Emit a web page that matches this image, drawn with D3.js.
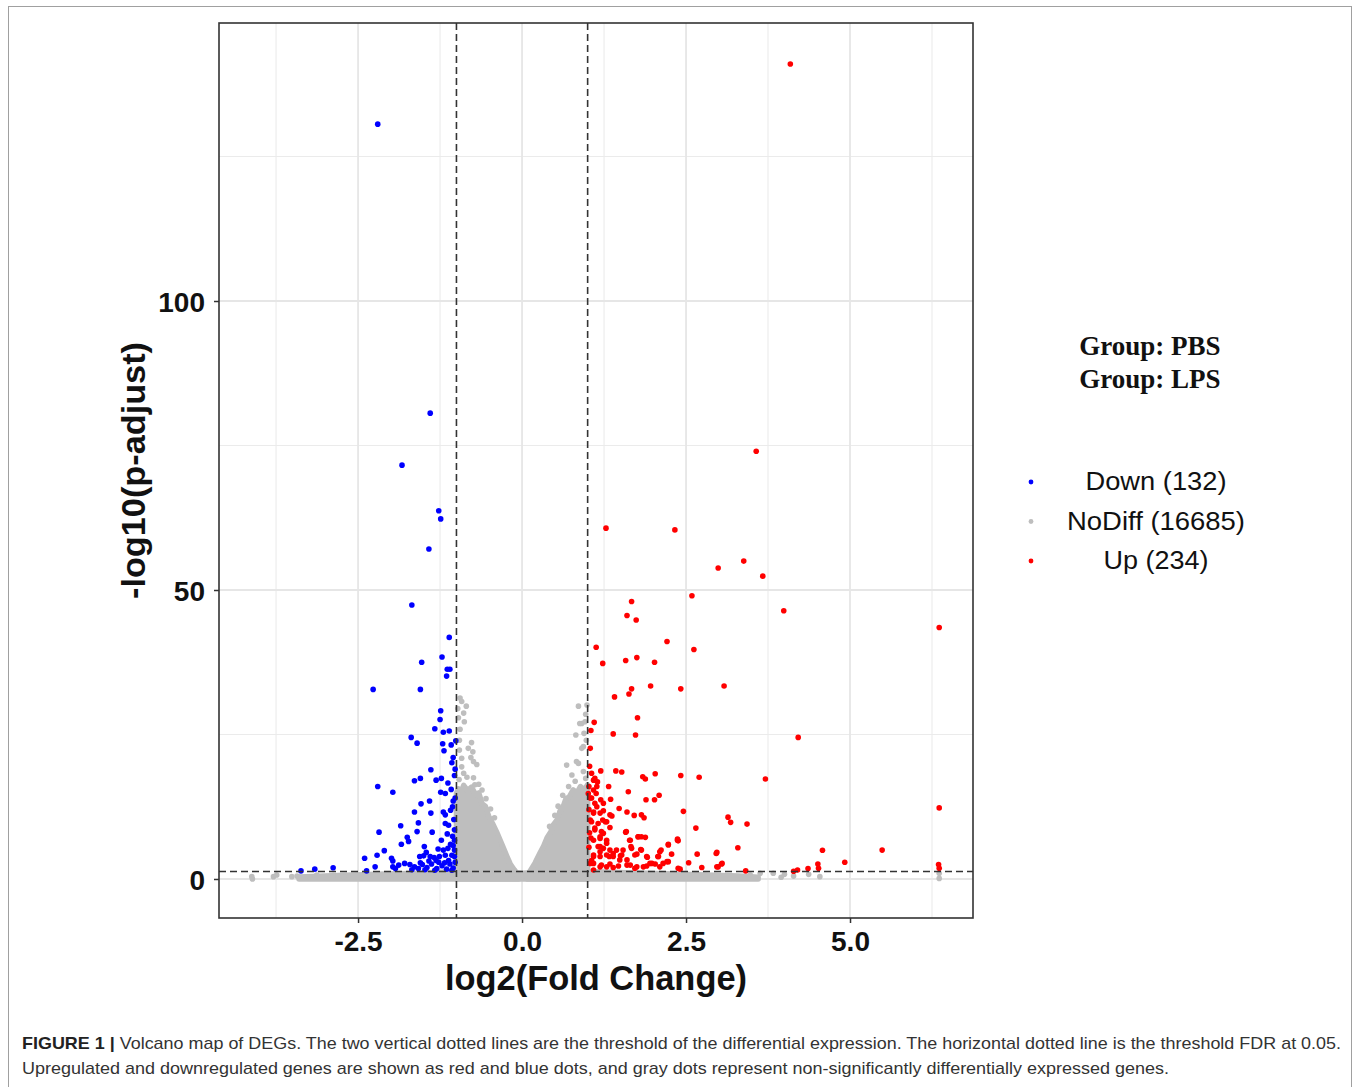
<!DOCTYPE html>
<html><head><meta charset="utf-8">
<script src="https://cdn.jsdelivr.net/npm/d3@7"></script>
<style>body{margin:0;background:#fff;} svg{display:block}</style>
</head><body><svg id="c" width="1358" height="1087"></svg>
<script>
// ---------- data ----------
const xTicks = [-2.5, 0, 2.5, 5];
const xMinor = [-3.75, -1.25, 1.25, 3.75, 6.25];
const yTicks = [0, 50, 100];
const yMinor = [25, 75, 125];
const fcThreshold = [-1, 1];
const fdrThreshold = -Math.log10(0.05);
const legendLabels = ["Down (132)", "NoDiff (16685)", "Up (234)"];
const legendColors = ["#0000ff", "#bebebe", "#ff0000"];
const groupLabels = ["Group: PBS", "Group: LPS"];
const captionBold = "FIGURE 1 |";
const captionLine1 = " Volcano map of DEGs. The two vertical dotted lines are the threshold of the differential expression. The horizontal dotted line is the threshold FDR at 0.05.";
const captionLine2 = "Upregulated and downregulated genes are shown as red and blue dots, and gray dots represent non-significantly differentially expressed genes.";

// down-regulated genes [log2FC, -log10(padj)]
const downGenes = [
[-2.20,130.6],[-1.40,80.6],[-1.83,71.6],[-1.27,63.7],[-1.24,62.3],[-1.42,57.1],[-1.68,47.4],[-1.11,41.8],
[-1.22,38.4],[-1.53,37.5],[-1.14,36.3],[-1.10,36.3],[-1.15,35.1],[-2.27,32.8],[-1.55,32.8],[-1.24,29.1],
[-1.25,27.6],[-1.33,26.0],[-1.20,25.4],[-1.11,25.6],[-1.69,24.5],[-1.60,23.5],[-1.21,23.4],[-1.08,23.2],
[-1.01,23.9],[-1.19,22.2],[-1.07,20.1],[-1.39,18.9],[-2.20,16.0],[-1.97,15.0],[-1.64,17.0],[-1.55,17.4],
[-1.31,17.1],[-1.23,17.4],[-1.13,16.6],[-1.24,15.0],[-1.17,14.8],[-1.08,15.5],[-1.54,13.0],[-1.41,13.5],
[-1.64,11.6],[-1.39,11.4],[-1.20,11.6],[-1.17,11.1],[-1.06,12.5],[-1.05,13.5],[-1.09,11.9],[-1.58,9.7],
[-1.85,9.2],[-2.18,8.1],[-1.37,8.1],[-1.60,8.2],[-1.17,9.6],[-1.12,9.3],[-1.06,7.4],[-1.03,6.7],[-1.23,6.7],
[-1.75,7.2],[-1.73,6.5],[-1.84,6.0],[-2.10,4.9],[-2.21,4.1],[-2.40,3.6],[-1.99,3.6],[-1.97,3.1],[-1.49,5.6],
[-1.50,4.0],[-1.56,3.9],[-1.40,3.9],[-1.34,3.7],[-1.26,3.9],[-1.17,4.1],[-1.07,4.1],[-1.03,3.9],[-1.79,2.7],
[-1.71,2.5],[-1.97,2.1],[-1.93,1.8],[-1.55,2.8],[-1.64,2.1],[-1.58,1.8],[-2.24,2.1],[-2.37,1.4],[-2.88,1.95],
[-3.16,1.7],[-3.37,1.4],[-1.45,2.0],[-1.38,2.6],[-1.30,1.8],[-1.22,2.3],[-1.15,1.7],[-1.10,2.6],[-1.05,1.9],
[-1.02,2.9],[-1.33,1.5],[-1.27,2.9],[-1.12,3.2],[-1.48,1.6],[-1.68,1.6],[-1.88,2.4],[-1.52,2.5],[-1.42,3.1],
[-1.18,2.8],[-1.07,1.5],[-1.03,5.0],[-1.05,5.8],[-1.13,5.3],[-1.28,5.2],[-1.03,8.5],[-1.04,10.3],[-1.02,14.0],
[-1.03,17.9],[-1.05,21.0],[-1.02,19.0],[-1.09,6.0],[-1.14,7.8],[-1.31,3.2],[-1.46,4.6],[-1.20,5.0]
];

// up-regulated genes [log2FC, -log10(padj)]
const upGenes = [
[4.09,141.0],[3.57,74.0],[1.28,60.7],[2.33,60.4],[2.99,53.8],[3.38,55.0],[3.67,52.4],[3.99,46.4],[6.36,43.5],
[2.59,49.0],[1.67,48.0],[1.60,45.6],[1.74,44.8],[2.21,41.1],[1.13,40.1],[2.62,39.7],[1.23,37.3],[1.58,37.8],
[1.75,38.3],[2.02,37.5],[1.96,33.4],[2.42,32.9],[3.08,33.4],[1.41,31.5],[1.67,32.9],[1.63,32.0],[1.76,27.9],
[1.10,27.1],[1.05,25.7],[1.39,25.1],[1.73,24.9],[4.21,24.5],[1.04,22.6],[1.06,18.3],[1.20,18.7],[1.43,18.7],
[1.52,18.5],[1.84,17.7],[1.88,17.3],[2.03,18.2],[2.42,17.9],[2.70,17.6],[3.71,17.3],[1.32,16.0],[1.62,15.1],
[1.35,13.8],[1.48,12.2],[1.60,11.6],[1.71,11.0],[1.86,10.6],[1.89,13.7],[2.02,13.7],[2.09,14.5],[2.46,11.7],
[3.14,10.7],[3.18,9.8],[3.43,9.5],[2.65,8.8],[1.58,8.1],[1.64,6.7],[1.77,7.3],[1.88,7.2],[2.23,6.0],[2.37,6.9],
[2.38,6.6],[3.29,5.4],[4.58,4.96],[5.49,5.0],[6.36,12.3],[4.92,2.9],[4.51,2.6],[4.52,1.85],[6.35,2.5],[6.36,1.85],
[4.36,1.8],[4.20,1.55],[4.14,1.33],[2.67,4.3],[2.97,4.6],[3.05,2.7],[2.99,2.1],[2.54,2.8],[2.74,2.0],[3.41,1.4],
[2.28,4.3],[2.12,5.0],[2.07,3.9],[1.91,3.75],[1.81,5.1],[1.75,4.3],[1.66,5.6],[1.50,4.0],[1.39,4.4],[1.33,3.9],
[1.19,4.7],[1.09,3.9],[1.04,2.7],[1.24,7.9],[1.34,8.9],[1.05,7.1],[1.23,10.2],[1.09,11.4],[1.24,11.8],[1.29,9.9],
[1.06,14.0],[1.20,13.7],[1.14,16.0],[1.09,17.1],[1.34,11.1],[1.01,14.8],[1.14,12.5],[1.19,5.6],[1.29,6.2],
[1.49,3.3],[1.60,2.4],[1.85,2.1],[2.10,2.1],[2.21,3.0],[2.41,1.7],[1.72,1.85],[1.39,2.0],[1.19,2.1],[1.09,1.55],
[1.29,2.1],[1.95,2.7],[1.11,8.8],[1.19,7.3],[1.04,10.2],[1.11,17.4],[1.15,16.8],[1.09,15.4],[1.13,14.8],
[1.04,14.0],[1.11,13.1],[1.24,13.1],[1.09,11.6],[1.19,11.4],[1.37,10.9],[1.06,9.9],[1.16,9.6],[1.27,9.9],
[1.11,8.5],[1.21,8.2],[1.09,6.7],[1.19,7.0],[1.29,6.7],[1.16,5.6],[1.24,5.3],[1.34,5.0],[1.44,5.0],[1.09,4.15],
[1.19,3.9],[1.29,4.15],[1.39,3.9],[1.52,4.15],[1.60,3.3],[1.09,2.7],[1.21,2.4],[1.34,2.6],[1.47,2.25],[1.65,2.4],
[1.75,2.1],[1.90,2.25],[2.03,2.6],[1.82,11.1],[1.59,8.2],[1.65,6.7],[1.77,7.3],[1.82,7.3],[1.54,5.0],[1.67,5.3],
[1.72,4.15],[1.82,5.0],[1.90,3.9],[1.98,2.7],[2.10,4.7],[2.23,5.9],[2.37,6.7],[2.08,3.9],[2.15,2.7],[2.23,3.0],
[2.38,1.85],[2.96,4.4],[2.97,2.1],[3.04,2.6],[1.02,5.5],[1.03,8.0],[1.02,12.0],[1.03,19.5],[1.02,16.0],[1.06,3.2]
];

// non-significant genes: dense regions traced as outlines, plus scattered points
const noDiffLeftCloud = [[-1.0,0],[-1.0,14.8],[-0.97,15.6],[-0.93,14.9],[-0.89,16.2],[-0.83,15.3],[-0.77,15.9],
[-0.71,14.6],[-0.66,14.9],[-0.61,13.0],[-0.56,12.6],[-0.51,10.9],[-0.45,9.6],[-0.39,8.2],[-0.33,6.6],[-0.285,5.4],
[-0.23,3.9],[-0.18,2.6],[-0.12,1.6],[-0.08,1.0],[-0.05,0]];
const noDiffRightCloud = [[0.08,0],[0.12,1.3],[0.2,2.8],[0.27,4.4],[0.33,5.7],[0.38,7.1],[0.44,8.2],[0.48,9.4],
[0.54,10.3],[0.58,11.8],[0.63,12.6],[0.67,13.9],[0.72,14.2],[0.78,15.4],[0.84,14.9],[0.89,16.0],[0.95,15.4],
[1.0,16.3],[1.0,0]];
const noDiffBand = [[-3.4,0],[-3.4,0.35],[-2.8,0.6],[-2.2,0.8],[-1.6,1.0],[-1.0,1.3],[-0.5,1.3],[0,1.0],
[0.5,1.3],[1.0,1.3],[1.6,1.1],[2.2,0.9],[2.8,0.7],[3.3,0.5],[3.6,0.3],[3.6,0]];
const noDiffGenes = [
[-0.945,31.3],[-0.92,30.7],[-0.85,29.9],[-0.89,28.7],[-0.88,27.2],[-0.945,25.9],[-0.955,24.0],[-0.77,23.6],
[-0.82,22.6],[-0.955,22.3],[-0.75,22.0],[-0.78,21.0],[-0.92,20.9],[-0.74,20.3],[-0.69,19.8],[-0.92,19.4],
[-0.89,18.3],[-0.74,17.5],[-0.72,16.3],[-0.61,15.4],[-0.97,27.9],[-0.98,29.5],[-0.84,17.6],[-0.96,17.2],
[-0.66,16.4],[-0.55,13.9],[-0.48,12.1],[-0.42,10.6],
[0.86,29.9],[0.99,30.1],[0.91,26.9],[0.96,27.2],[0.88,26.9],[0.82,24.9],[0.945,25.2],[0.935,22.9],[0.91,22.6],
[0.68,19.7],[0.83,20.3],[0.86,20.0],[0.76,18.0],[0.935,18.6],[0.71,16.0],[0.97,28.5],[0.98,24.0],[0.62,14.5],
[0.55,12.6],[0.97,17.4],[0.81,16.9],[0.50,11.0],[0.42,9.1],
[-4.12,0.4],[-4.11,0.0],[-3.79,0.4],[-3.74,0.7],[-3.51,0.4],[-3.43,0.5],[-3.23,0.3],[-3.13,0.7],[-2.98,0.4],
[-2.88,0.6],[-2.72,0.3],[3.48,0.7],[3.63,1.0],[3.83,1.0],[4.14,0.5],[4.37,0.8],[4.54,0.4],[6.36,1.0],[6.36,0.1],
[3.95,0.3],[4.0,0.8]
];

// ---------- chart ----------
const svg = d3.select("#c");
const P = {l:219, r:973, t:23, b:918};
const x = d3.scaleLinear().domain([-4.62, 6.875]).range([P.l, P.r]);
const y = d3.scaleLinear().domain([-6.75, 148.1]).range([P.b, P.t]);
const AX = "Liberation Sans, Arial, Helvetica, sans-serif";

// outer frame
svg.append("rect").attr("x",8.5).attr("y",6.5).attr("width",1343).attr("height",1100)
  .attr("fill","none").attr("stroke","#a0a0a0").attr("stroke-width",1);

svg.append("defs").append("clipPath").attr("id","clip")
  .append("rect").attr("x",P.l).attr("y",P.t).attr("width",P.r-P.l).attr("height",P.b-P.t);

const grid = svg.append("g");
grid.selectAll(".vmin").data(xMinor).join("line")
  .attr("x1",d=>x(d)).attr("x2",d=>x(d)).attr("y1",P.t).attr("y2",P.b)
  .attr("stroke","#ebebeb").attr("stroke-width",1.1);
grid.selectAll(".hmin").data(yMinor).join("line")
  .attr("y1",d=>y(d)).attr("y2",d=>y(d)).attr("x1",P.l).attr("x2",P.r)
  .attr("stroke","#ebebeb").attr("stroke-width",1.1);
grid.selectAll(".vmaj").data(xTicks).join("line")
  .attr("x1",d=>x(d)).attr("x2",d=>x(d)).attr("y1",P.t).attr("y2",P.b)
  .attr("stroke","#e6e6e6").attr("stroke-width",1.8);
grid.selectAll(".hmaj").data(yTicks).join("line")
  .attr("y1",d=>y(d)).attr("y2",d=>y(d)).attr("x1",P.l).attr("x2",P.r)
  .attr("stroke","#e6e6e6").attr("stroke-width",1.8);

const plot = svg.append("g").attr("clip-path","url(#clip)");
const line = d3.line().x(d=>x(d[0])).y(d=>y(d[1]));
[noDiffBand, noDiffLeftCloud, noDiffRightCloud].forEach(poly => {
  plot.append("path").attr("d", line(poly)+"Z")
    .attr("fill","#bebebe").attr("stroke","#bebebe").attr("stroke-width",5.5).attr("stroke-linejoin","round");
});
const R = 2.8;
plot.selectAll(".nd").data(noDiffGenes).join("circle")
  .attr("cx",d=>x(d[0])).attr("cy",d=>y(d[1])).attr("r",R).attr("fill","#bebebe");
plot.selectAll(".dn").data(downGenes).join("circle")
  .attr("cx",d=>x(d[0])).attr("cy",d=>y(d[1])).attr("r",R).attr("fill","#0000ff");
plot.selectAll(".up").data(upGenes).join("circle")
  .attr("cx",d=>x(d[0])).attr("cy",d=>y(d[1])).attr("r",R).attr("fill","#ff0000");

// threshold lines
plot.selectAll(".vth").data(fcThreshold).join("line")
  .attr("x1",d=>x(d)).attr("x2",d=>x(d)).attr("y1",P.t).attr("y2",P.b)
  .attr("stroke","#333").attr("stroke-width",1.6).attr("stroke-dasharray","7,4");
plot.append("line").attr("x1",P.l).attr("x2",P.r).attr("y1",y(fdrThreshold)).attr("y2",y(fdrThreshold))
  .attr("stroke","#333").attr("stroke-width",1.6).attr("stroke-dasharray","7,4");

// panel border
svg.append("rect").attr("x",P.l).attr("y",P.t).attr("width",P.r-P.l).attr("height",P.b-P.t)
  .attr("fill","none").attr("stroke","#333").attr("stroke-width",1.6);

// axes
const xAxis = svg.append("g").attr("transform",`translate(0,${P.b})`)
  .call(d3.axisBottom(x).tickValues(xTicks).tickSize(5).tickPadding(8).tickFormat(d=>d.toFixed(1)));
const yAxis = svg.append("g").attr("transform",`translate(${P.l},0)`)
  .call(d3.axisLeft(y).tickValues(yTicks).tickSize(5).tickPadding(9).tickFormat(d=>String(d)));
[xAxis,yAxis].forEach(a=>{
  a.select(".domain").remove();
  a.selectAll(".tick line").attr("stroke","#333").attr("stroke-width",1.5);
  a.selectAll(".tick text").attr("fill","#111").attr("font-family",AX)
    .attr("font-weight","bold").attr("font-size",28);
});
xAxis.selectAll(".tick text").attr("dy","0.72em");
yAxis.selectAll(".tick text").attr("dy","0.36em");

// axis titles
svg.append("text").attr("x",(P.l+P.r)/2).attr("y",990).attr("text-anchor","middle")
  .attr("font-family",AX).attr("font-weight","bold").attr("font-size",35)
  .attr("textLength",302).attr("lengthAdjust","spacingAndGlyphs").attr("fill","#111")
  .text("log2(Fold Change)");
svg.append("text").attr("transform",`translate(145,${(P.t+P.b)/2}) rotate(-90)`).attr("text-anchor","middle")
  .attr("font-family",AX).attr("font-weight","bold").attr("font-size",34)
  .attr("textLength",257).attr("lengthAdjust","spacingAndGlyphs").attr("fill","#111")
  .text("-log10(p-adjust)");

// legend
svg.selectAll(".gl").data(groupLabels).join("text")
  .attr("x",1150).attr("y",(d,i)=>355+i*33).attr("text-anchor","middle")
  .attr("font-family","Liberation Serif, Times New Roman, serif").attr("font-weight","bold")
  .attr("font-size",27).attr("fill","#111").text(d=>d);
const legW = [141,178,105];
const lg = svg.append("g");
lg.selectAll("circle").data(legendLabels).join("circle")
  .attr("cx",1031).attr("cy",(d,i)=>482+i*39.5).attr("r",2.4).attr("fill",(d,i)=>legendColors[i]);
lg.selectAll("text").data(legendLabels).join("text")
  .attr("x",1156).attr("y",(d,i)=>490+i*39.5).attr("text-anchor","middle")
  .attr("font-family",AX).attr("font-size",25).attr("fill","#111")
  .attr("textLength",(d,i)=>legW[i]).attr("lengthAdjust","spacingAndGlyphs").text(d=>d);

// caption
const c1 = svg.append("text").attr("x",22).attr("y",1049).attr("font-family",AX).attr("font-size",17)
  .attr("fill","#333").attr("textLength",1319).attr("lengthAdjust","spacingAndGlyphs");
c1.append("tspan").attr("font-weight","bold").attr("fill","#222").text(captionBold);
c1.append("tspan").text(captionLine1);
svg.append("text").attr("x",22).attr("y",1074).attr("font-family",AX).attr("font-size",17)
  .attr("fill","#333").attr("textLength",1147).attr("lengthAdjust","spacingAndGlyphs").text(captionLine2);
</script></body></html>
